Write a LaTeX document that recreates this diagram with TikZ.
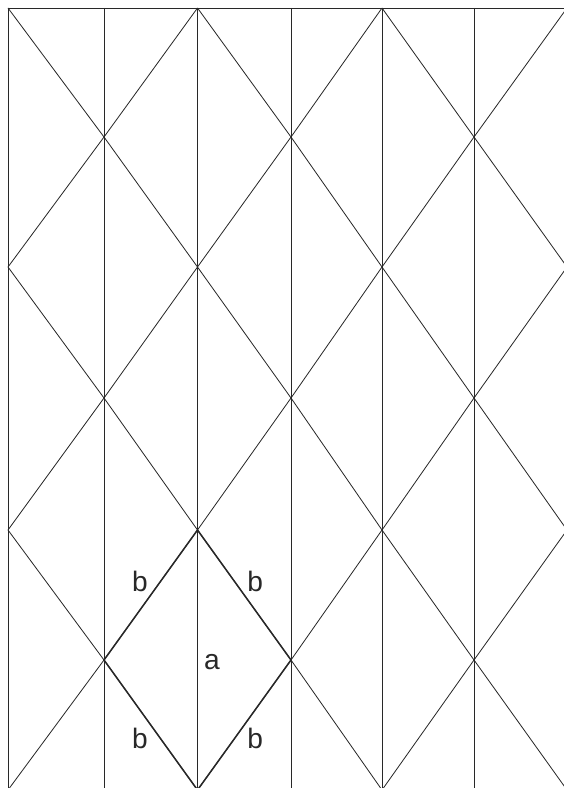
\documentclass[tikz,border=0pt]{standalone}
\usepackage{fontspec}
\setsansfont{Liberation Sans}
\usetikzlibrary{positioning}
\definecolor{inkgray}{RGB}{40,40,40}

\tikzset{
  gridline/.style={draw=inkgray,line width=0.7pt},
  rhombline/.style={draw=inkgray,line width=1.3pt},
  sidelabel/.style={text=inkgray,font=\sffamily\fontsize{24}{24}\selectfont,inner sep=2pt}
}

\begin{document}
\begin{tikzpicture}[x=0.03cm,y=-0.03cm]
\useasboundingbox (0,0) rectangle (564,788);
\clip (0,0) rectangle (564,788);
% lattice points
\foreach \x [count=\i from 0] in {8,104,197.5,291,382,474,567}
  \foreach \y [count=\j from 0] in {8,137,267,398,530,660,790}
    \coordinate (v\i\j) at (\x,\y);
% diagonals, one per cell
\foreach \i in {0,...,5}
  \foreach \j in {0,...,5} {
    \pgfmathtruncatemacro\ii{\i+1}
    \pgfmathtruncatemacro\jj{\j+1}
    \pgfmathtruncatemacro\parity{mod(\i+\j,2)}
    \ifnum\parity=0
      \draw[gridline] (v\i\j) -- (v\ii\jj);
    \else
      \draw[gridline] (v\ii\j) -- (v\i\jj);
    \fi
  }
% verticals and top edge
\foreach \i in {0,...,5}
  \draw[gridline] (v\i0) -- (v\i6);
\draw[gridline] (v00) -- (v60);
% the rhombus
\draw[rhombline] (v24) -- node[sidelabel,above left] {b} (v15)
  -- node[sidelabel,below left] {b} (v26)
  -- node[sidelabel,below right] {b} (v35)
  -- node[sidelabel,above right] {b} (v24);
\draw[rhombline] (v24) -- node[sidelabel,right=3pt,yshift=-2pt] {a} (v26);
\end{tikzpicture}
\end{document}
